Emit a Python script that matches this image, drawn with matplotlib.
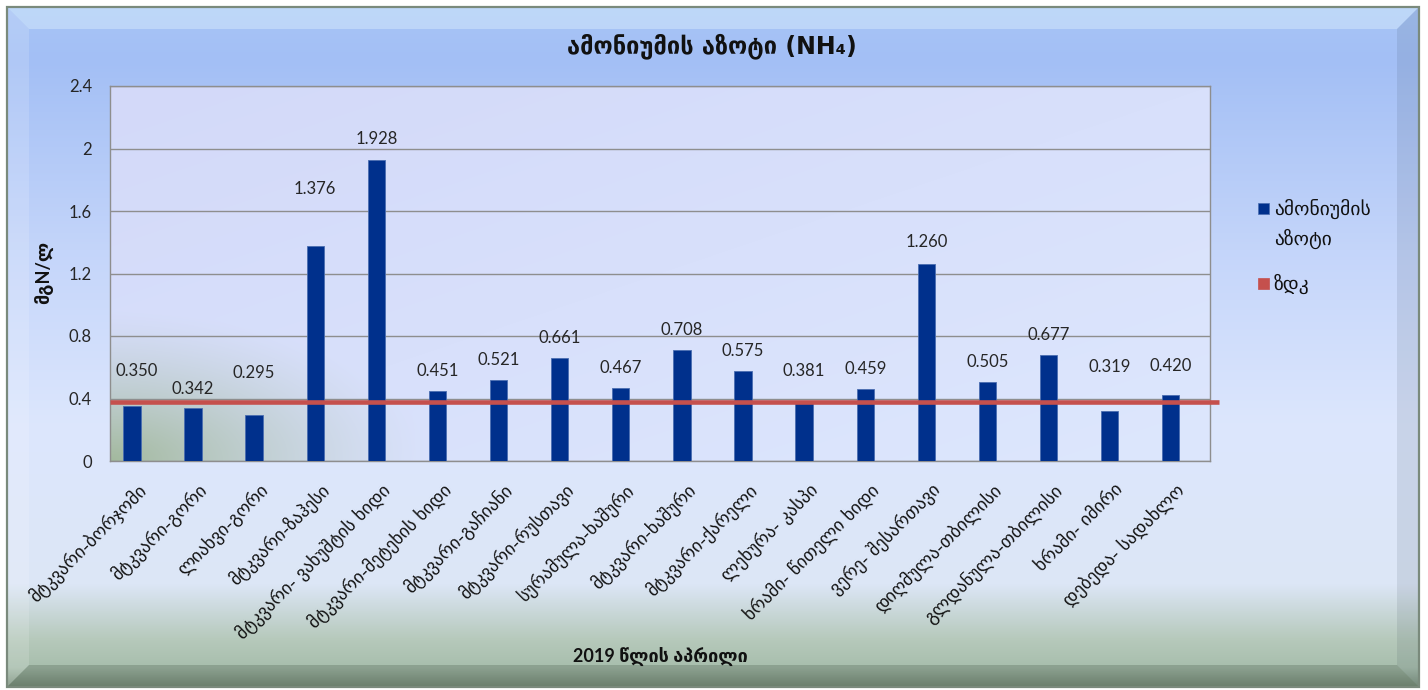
import numpy as np
import matplotlib
matplotlib.use("Agg")
import matplotlib.pyplot as plt
import matplotlib.transforms as mtransforms
from matplotlib.patches import Polygon, Rectangle
from matplotlib.colors import to_rgb

# ---------------- data ----------------
categories = [
    "მტკვარი-ბორჯომი", "მტკვარი-გორი", "ლიახვი-გორი", "მტკვარი-ზაჰესი",
    "მტკვარი- ვახუშტის ხიდი", "მტკვარი-მეტეხის ხიდი", "მტკვარი-გაჩიანი",
    "მტკვარი-რუსთავი", "სურამულა-ხაშური", "მტკვარი-ხაშური", "მტკვარი-ქარელი",
    "ლეხურა- კასპი", "ხრამი- წითელი ხიდი", "ვერე- შესართავი",
    "დიღმულა-თბილისი", "გლდანულა-თბილისი", "ხრამი- იმირი", "დებედა- სადახლო",
]
values = [0.350, 0.342, 0.295, 1.376, 1.928, 0.451, 0.521, 0.661, 0.467,
          0.708, 0.575, 0.381, 0.459, 1.260, 0.505, 0.677, 0.319, 0.420]
zdk_value = 0.38
y_ticks = [0, 0.4, 0.8, 1.2, 1.6, 2.0, 2.4]
y_tick_labels = ["0", "0.4", "0.8", "1.2", "1.6", "2", "2.4"]
title_text = "ამონიუმის აზოტი (NH₄)"
y_label = "მგN/ლ"
x_label = "2019 წლის აპრილი"
series_name = ["ამონიუმის", "აზოტი"]
zdk_name = "ზდკ"

# label offsets (pixels) relative to bar top
label_offsets = [(5, 35), (0, 19), (0, 42), (0, 57), (0, 21), (0, 20),
                 (0, 20), (0, 20), (0, 20), (0, 20), (0, 20), (0, 30),
                 (0, 20), (0, 22), (0, 20), (0, 20), (0, 44), (0, 29)]

# ---------------- style ----------------
W, H = 1428, 690
GEO = ["DejaVu Sans"]
NUM = ["Lato", "DejaVu Sans"]
plt.rcParams["font.family"] = NUM

fig = plt.figure(figsize=(W / 100, H / 100), dpi=100)
fig.patch.set_facecolor("white")

bg = fig.add_axes([0, 0, 1, 1], zorder=-10)
bg.set_xlim(0, W)
bg.set_ylim(H, 0)
bg.axis("off")

x0, y0, x1, y1 = 7, 7, 1419, 687


def vgrad(stops, n=500):
    pos = np.array([s[0] for s in stops], float)
    cols = np.array([to_rgb(s[1]) for s in stops])
    ys = np.linspace(pos[0], pos[-1], n)
    out = np.stack([np.interp(ys, pos, cols[:, k]) for k in range(3)], axis=-1)
    return out[:, None, :]


stops = [(7, "#a8c5f6"), (60, "#a3bff5"), (250, "#c4d5fa"), (430, "#dde7fd"),
         (585, "#dce6f6"), (640, "#b6c9bb"), (668, "#a8bead"), (687, "#7e9380")]
bg.imshow(vgrad(stops), extent=[x0, x1, y1, y0], aspect="auto", zorder=0,
          interpolation="bilinear")

b = 22
bg.add_patch(Polygon([(x0, y0), (x1, y0), (x1 - b, y0 + b), (x0 + b, y0 + b)],
                     closed=True, facecolor="#e8fbff", alpha=0.35, lw=0, zorder=1))
bg.add_patch(Polygon([(x0, y0), (x0 + b, y0 + b), (x0 + b, y1 - b), (x0, y1)],
                     closed=True, facecolor="white", alpha=0.15, lw=0, zorder=1))
bg.add_patch(Polygon([(x1, y0), (x1, y1), (x1 - b, y1 - b), (x1 - b, y0 + b)],
                     closed=True, facecolor="#203040", alpha=0.10, lw=0, zorder=1))
bg.add_patch(Polygon([(x0, y1), (x1, y1), (x1 - b, y1 - b), (x0 + b, y1 - b)],
                     closed=True, facecolor="#203020", alpha=0.20, lw=0, zorder=1))
bg.add_patch(Rectangle((x0, y0), x1 - x0, y1 - y0, fill=False,
                       edgecolor="#7a8a7c", lw=1.6, zorder=2))

# plot area
L, R, T, B = 110, 1210, 86, 461
rect = [L / W, 1 - B / H, (R - L) / W, (B - T) / H]

pbg = fig.add_axes(rect, zorder=-5)
pbg.axis("off")
ny, nx = 200, 400
yy, xx = np.mgrid[0:1:ny * 1j, 0:1:nx * 1j]
c_tl = np.array(to_rgb("#d3d9f9"))
c_br = np.array(to_rgb("#dde7fd"))
t = np.clip((xx + yy) / 2, 0, 1)[..., None]
base = c_tl * (1 - t) + c_br * t
green = np.array(to_rgb("#a3b99e"))
d = np.sqrt((xx / 0.29) ** 2 + ((1 - yy) / 0.40) ** 2)
w = (np.clip(1 - d, 0, 1) ** 1.3)[..., None]
img = base * (1 - w) + green * w
pbg.imshow(img, extent=[0, 1, 0, 1], aspect="auto", interpolation="bilinear")
pbg.set_xlim(0, 1)
pbg.set_ylim(0, 1)

ax = fig.add_axes(rect, zorder=0)
ax.set_facecolor("none")
n = len(categories)
x = np.arange(n)
shift = 0.1415
bw = 0.283

ax.bar(x - shift, values, width=bw, color="#00308c", edgecolor="#4a6db0",
       linewidth=0.6, zorder=3)
ax.plot([-0.5, n - 0.5 + 0.15], [zdk_value, zdk_value], color="#c5504d",
        lw=3.3, solid_capstyle="butt", clip_on=False, zorder=4)

for i, v in enumerate(values):
    dx, dy = label_offsets[i]
    ax.annotate(f"{v:.3f}", (i - shift, v), xytext=(dx, dy),
                textcoords="offset pixels", ha="center", va="center",
                fontsize=12, color="#262626", family=NUM, zorder=5)

ax.set_xlim(-0.5, n - 0.5)
ax.set_ylim(0, 2.4)
ax.set_yticks(y_ticks)
ax.set_yticklabels(y_tick_labels, fontsize=12, color="#262626", family=NUM)
ax.yaxis.grid(True, color="#8e8e8e", lw=1)
ax.set_axisbelow(True)
for s in ax.spines.values():
    s.set_color("#8e8e8e")
    s.set_linewidth(1)
ax.tick_params(axis="y", length=0, pad=13)
ax.tick_params(axis="x", length=0, pad=14)

ax.set_xticks(x)
ax.set_xticklabels(categories, rotation=45, ha="right", va="top",
                   rotation_mode="anchor", fontsize=13, family=GEO,
                   color="#111111")
off = mtransforms.ScaledTranslation(-4 / 100, 0, fig.dpi_scale_trans)
for lab in ax.get_xticklabels():
    lab.set_transform(lab.get_transform() + off)

# titles
fig.text(712 / W, 1 - 46 / H, title_text, ha="center", va="center",
         fontsize=17, fontweight="bold", family=["DejaVu Sans"],
         color="#111111")
fig.text(45 / W, 1 - 272 / H, y_label, ha="center", va="center", rotation=90,
         fontsize=13, fontweight="bold", family=NUM, color="#111111")
fig.text(660 / W, 1 - 657 / H, x_label, ha="center", va="center",
         fontsize=13, fontweight="bold", family=NUM, color="#111111")

# legend
bg.add_patch(Rectangle((1258, 203), 11, 11, facecolor="#00308c",
                       edgecolor="#4a6db0", lw=0.5, zorder=5))
bg.add_patch(Rectangle((1258, 278), 11, 11, facecolor="#c5504d",
                       edgecolor="#c5504d", lw=0.5, zorder=5))
bg.text(1274, 209, series_name[0], ha="left", va="center",
        fontsize=14, family=GEO, color="#111111", zorder=5)
bg.text(1274, 239, series_name[1], ha="left", va="center",
        fontsize=14, family=GEO, color="#111111", zorder=5)
bg.text(1274, 284, zdk_name, ha="left", va="center",
        fontsize=14, family=GEO, color="#111111", zorder=5)

fig.savefig("out.png", dpi=100, facecolor="white")
